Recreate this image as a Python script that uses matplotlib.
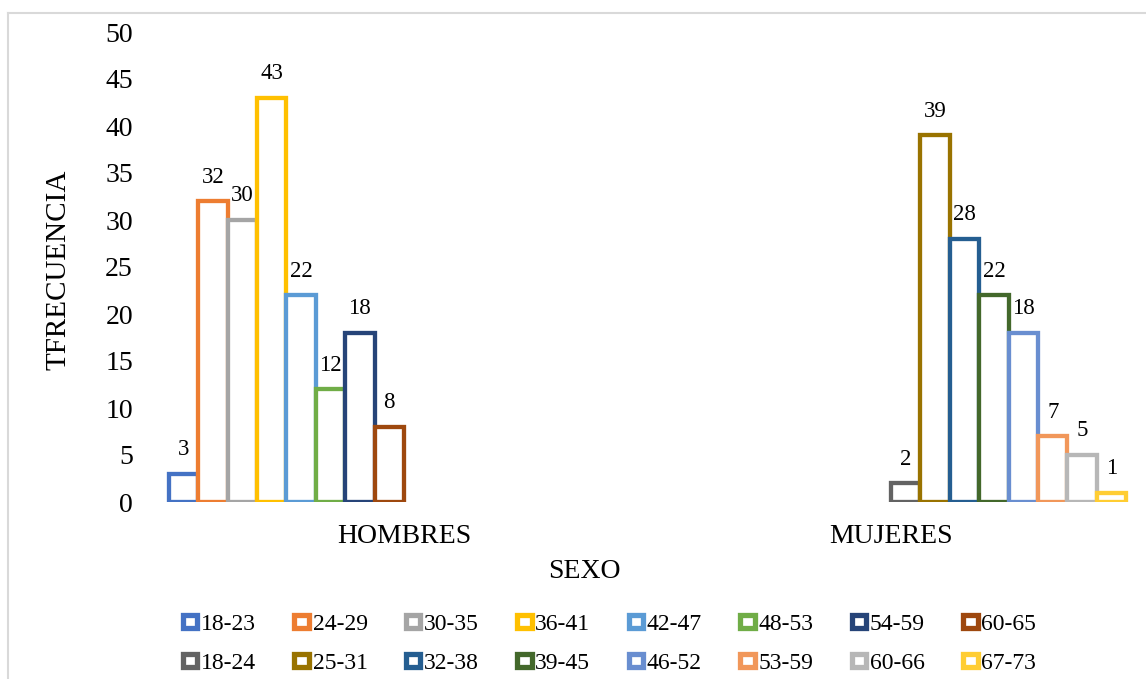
import matplotlib
matplotlib.use("Agg")
import matplotlib.pyplot as plt
from matplotlib.patches import Patch
from matplotlib.lines import Line2D

plt.rcParams['font.family'] = ['Liberation Serif', 'DejaVu Serif']

categories = ["HOMBRES", "MUJERES"]

hombres_labels = ["18-23", "24-29", "30-35", "36-41", "42-47", "48-53", "54-59", "60-65"]
hombres_values = [3, 32, 30, 43, 22, 12, 18, 8]
hombres_colors = ["#4472C4", "#ED7D31", "#A5A5A5", "#FFC000",
                  "#5B9BD5", "#70AD47", "#264478", "#9E480E"]

mujeres_labels = ["18-24", "25-31", "32-38", "39-45", "46-52", "53-59", "60-66", "67-73"]
mujeres_values = [2, 39, 28, 22, 18, 7, 5, 1]
mujeres_colors = ["#636363", "#997300", "#255E91", "#43682B",
                  "#698ED0", "#F1975A", "#B7B7B7", "#FFCD33"]

W, H = 1146, 679
fig = plt.figure(figsize=(W / 100, H / 100), dpi=100)
ax = fig.add_axes([160.5 / W, (H - 502) / H, 974 / W, (502 - 32) / H])

n_slots = len(hombres_values) + len(mujeres_values)
w = 29.4 / 487  # width of one series slot in category units
lw = 3.1

def draw_group(center, start_slot, values, colors):
    for k, (v, c) in enumerate(zip(values, colors)):
        x = center - n_slots / 2 * w + (start_slot + k + 0.5) * w
        ax.bar(x, v, width=w, facecolor="white", edgecolor=c, linewidth=lw)
        ax.annotate(str(v), (x, v), xytext=(0, 17.3), textcoords="offset points",
                    ha="center", va="center", fontsize=16.5)

draw_group(0, 0, hombres_values, hombres_colors)
draw_group(1, len(hombres_values), mujeres_values, mujeres_colors)

ax.set_xlim(-0.5, 1.5)
ax.set_ylim(0, 50)
ax.set_yticks(range(0, 51, 5))
ax.set_xticks([0, 1])
ax.set_xticklabels(categories)
ax.tick_params(axis="y", length=0, pad=19.8, labelsize=20)
ax.tick_params(axis="x", length=0, pad=16, labelsize=20)
for s in ax.spines.values():
    s.set_visible(False)

fig.text(58 / W, 1 - 270 / H, "TFRECUENCIA", rotation=90, ha="center",
         va="center", fontsize=21)
fig.text(584 / W, 1 - 572 / H, "SEXO", ha="center", va="center", fontsize=20)

# legend: first row hombres series, second row mujeres series
handles, labels = [], []
for hl, hc, ml, mc in zip(hombres_labels, hombres_colors, mujeres_labels, mujeres_colors):
    handles.append(Patch(facecolor="white", edgecolor=hc, linewidth=3.8))
    labels.append(hl)
    handles.append(Patch(facecolor="white", edgecolor=mc, linewidth=3.8))
    labels.append(ml)
fig.legend(handles, labels, ncol=8, loc="center",
           bbox_to_anchor=(609.5 / W, 35 / H), frameon=False, fontsize=17,
           handlelength=0.62, handleheight=0.45, handletextpad=0.15,
           columnspacing=1.62, labelspacing=0.75, borderpad=0, borderaxespad=0)

# chart area border (left and top edges)
border = "#D9D9D9"
fig.add_artist(Line2D([8 / W, 8 / W], [0, 1 - 13 / H], transform=fig.transFigure,
                      color=border, lw=1.5))
fig.add_artist(Line2D([8 / W, 1], [1 - 13 / H, 1 - 13 / H], transform=fig.transFigure,
                      color=border, lw=1.5))

fig.savefig("out.png", dpi=100, facecolor="white")
